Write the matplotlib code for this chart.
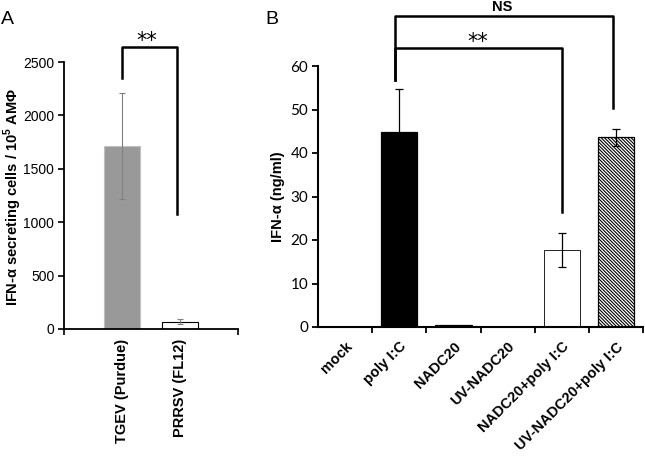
import matplotlib
matplotlib.use("Agg")
import matplotlib.pyplot as plt
import numpy as np

# Panel A data
a_cats = ["TGEV (Purdue)", "PRRSV (FL12)"]
a_vals = [1713, 70]
a_errs = [500, 20]
a_yticks = [0, 500, 1000, 1500, 2000, 2500]

# Panel B data
b_cats = ["mock", "poly I:C", "NADC20", "UV-NADC20", "NADC20+poly I:C", "UV-NADC20+poly I:C"]
b_vals = [0, 44.8, 0.4, 0, 17.7, 43.6]
b_errs = [0, 9.9, 0, 0, 3.8, 2.0]
b_yticks = [0, 10, 20, 30, 40, 50, 60]

plt.rcParams['font.family'] = ['Liberation Sans', 'DejaVu Sans']
plt.rcParams['hatch.linewidth'] = 0.8
plt.rcParams['mathtext.fontset'] = 'custom'
plt.rcParams['mathtext.rm'] = 'Liberation Sans'
plt.rcParams['mathtext.bf'] = 'Liberation Sans:bold'

W, H = 645, 457
fig = plt.figure(figsize=(W/100, H/100), dpi=100)

def rect(l, r, t, b):
    return [l/W, 1-b/H, (r-l)/W, (b-t)/H]

# ---------- Panel A ----------
axA = fig.add_axes(rect(64, 238, 62, 329))
xa = np.arange(len(a_cats))
axA.bar(xa[0], a_vals[0], width=0.62, color='#999999', edgecolor='#c0c0c0', linewidth=0.8)
axA.bar(xa[1], a_vals[1], width=0.62, color='white', edgecolor='black', linewidth=0.8)
axA.errorbar(xa, a_vals, yerr=a_errs, fmt='none', ecolor='#808080', elinewidth=0.8, capsize=2.5, capthick=0.8)
axA.set_xlim(-1, 2)
axA.set_ylim(0, 2500)
axA.set_yticks(a_yticks)
axA.set_yticklabels([str(v) for v in a_yticks], fontsize=10)
axA.set_xticks(xa)
axA.set_xticklabels(a_cats, rotation=90, fontsize=10.5, fontweight='bold')
axA.tick_params(axis='x', length=0, pad=7)
axA.set_xticks([-1, 2], minor=True)
axA.tick_params(axis='x', which='minor', length=4, width=1.2)
axA.tick_params(axis='y', length=4, width=1.2, pad=3)
for s in ['top', 'right']:
    axA.spines[s].set_visible(False)
for s in ['left', 'bottom']:
    axA.spines[s].set_linewidth(1.3)
fig.text(13/W, 1-197/H, "IFN-α secreting cells / 10$^{\\mathbf{5}}$ AMΦ", rotation=90,
         ha='center', va='center', fontsize=10.5, fontweight='bold')

# bracket A
axA.plot([0, 0, 0.95, 0.95], [2350, 2640, 2640, 1077], color='black', lw=1.8, clip_on=False)
axA.text(0.42, 2600, "**", ha='center', va='bottom', fontsize=15, family='DejaVu Sans')

# ---------- Panel B ----------
axB = fig.add_axes(rect(318, 643, 66, 327))
xb = np.arange(len(b_cats))
colors = ['white', 'black', 'black', 'white', 'white', 'white']
hatches = [None, None, None, None, None, '\\' * 10]
for i in range(len(b_cats)):
    if b_vals[i] <= 0:
        continue
    axB.bar(xb[i], b_vals[i], width=0.67, color=colors[i], edgecolor='black',
            linewidth=0.9 if i != 4 else 0.6, hatch=hatches[i])
for i in range(len(b_cats)):
    if b_errs[i] > 0:
        axB.errorbar(xb[i], b_vals[i], yerr=b_errs[i], fmt='none', ecolor='black',
                     elinewidth=0.9, capsize=3, capthick=0.9)
axB.set_xlim(-0.5, 5.5)
axB.set_ylim(0, 60)
axB.set_yticks(b_yticks)
axB.set_yticklabels([str(v) for v in b_yticks], fontsize=11, family=['Lato', 'DejaVu Sans'])
axB.set_xticks(xb)
axB.set_xticklabels(b_cats, rotation=45, ha='right', rotation_mode='anchor', fontsize=10.5, fontweight='bold')
axB.tick_params(axis='x', length=0, pad=9)
axB.set_xticks(np.arange(0.5, 6.0, 1.0), minor=True)
axB.tick_params(axis='x', which='minor', length=4, width=1.3)
axB.tick_params(axis='y', length=4, width=1.3, pad=3)
for s in ['top', 'right']:
    axB.spines[s].set_visible(False)
for s in ['left', 'bottom']:
    axB.spines[s].set_linewidth(1.5)
axB.set_ylabel("IFN-α (ng/ml)", fontsize=10.5, fontweight='bold', labelpad=4)

# brackets B
axB.plot([0.93, 0.93, 4.0, 4.0], [56.8, 64.1, 64.1, 26.4], color='black', lw=1.8, clip_on=False)
axB.plot([0.93, 0.93, 4.95, 4.95], [56.8, 71.5, 71.5, 50.3], color='black', lw=1.8, clip_on=False)
axB.text(2.45, 63.2, "**", ha='center', va='bottom', fontsize=15, family='DejaVu Sans')
axB.text(2.9, 72.0, "NS", ha='center', va='bottom', fontsize=10.5, fontweight='bold')

fig.text(1/W, 1-20/H, "A", fontsize=14, va='center', ha='left')
fig.text(265/W, 1-20/H, "B", fontsize=14, va='center', ha='left')

fig.savefig("out.png", dpi=100)
